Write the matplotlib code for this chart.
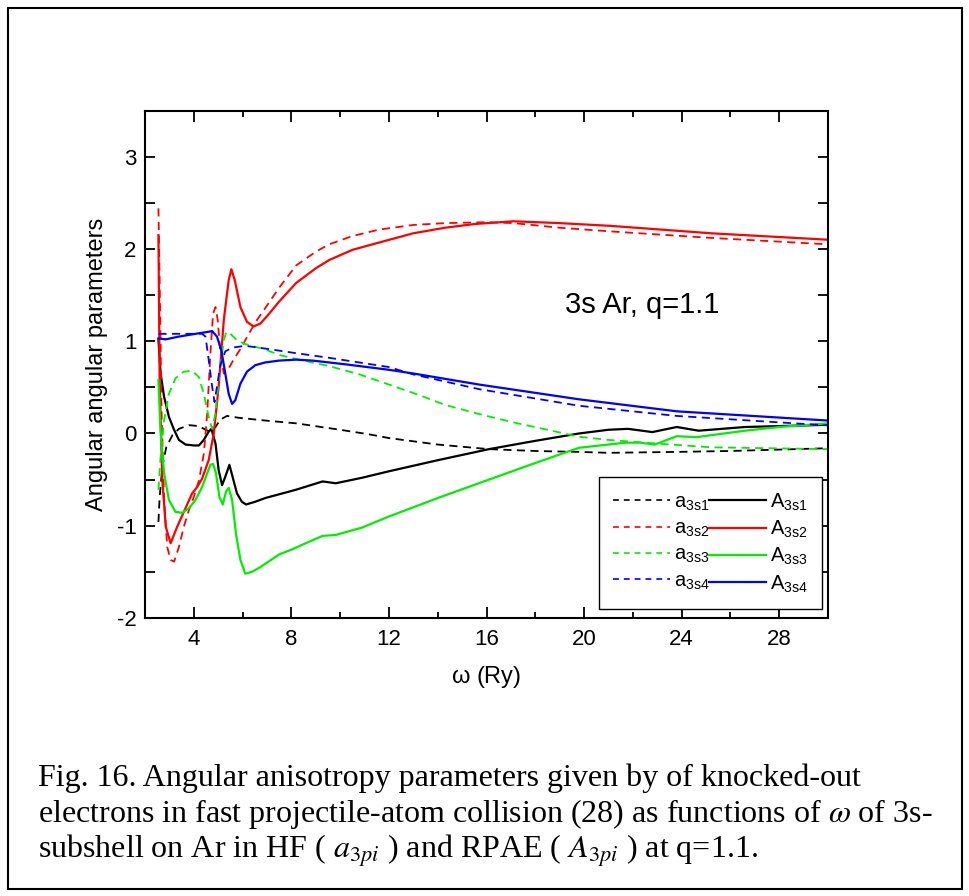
import matplotlib
matplotlib.use('Agg')
import matplotlib.pyplot as plt
from matplotlib.lines import Line2D
from matplotlib.patches import Rectangle

plt.rcParams['font.family'] = ['Liberation Sans', 'DejaVu Sans']
plt.rcParams['mathtext.fontset'] = 'custom'
plt.rcParams['mathtext.rm'] = 'Liberation Sans'
plt.rcParams['mathtext.it'] = 'Liberation Sans:italic'
plt.rcParams['axes.unicode_minus'] = False

# HF (dashed) and RPAE (solid) angular parameters
x_a1 = [2.55, 2.60, 2.71, 2.87, 3.12, 3.39, 3.80, 4.21, 4.48, 4.68, 4.89, 5.09, 5.36, 5.84, 6.93,
        8.19, 10.0, 11.2, 12.0, 14.0, 16.1, 18.0, 19.8, 21.0, 23.8, 26.0, 28.0, 30.0]
a1 = [-0.96, -0.69, -0.36, -0.15, -0.02, 0.05, 0.09, 0.08, 0.04, 0.02, 0.07, 0.15, 0.19, 0.17, 0.14,
      0.11, 0.04, -0.01, -0.05, -0.12, -0.17, -0.19, -0.20, -0.21, -0.20, -0.19, -0.175, -0.16]

x_A1 = [2.55, 2.64, 2.78, 2.98, 3.19, 3.39, 3.66, 4.00, 4.21, 4.41, 4.61, 4.72, 4.89, 5.02, 5.16,
        5.29, 5.46, 5.59, 5.77, 5.97, 6.14, 6.52, 6.93, 8.19, 9.28, 9.82, 10.9, 12.0, 14.0, 16.1,
        18.0, 19.8, 21.0, 21.8, 22.8, 23.8, 24.7, 26.6, 28.0, 30.0]
A1 = [1.02, 0.65, 0.40, 0.18, 0.04, -0.07, -0.12, -0.13, -0.13, -0.07, 0.02, 0.05, -0.11, -0.40, -0.56,
      -0.47, -0.34, -0.47, -0.65, -0.74, -0.77, -0.74, -0.70, -0.61, -0.52, -0.54, -0.48, -0.41, -0.29, -0.17,
      -0.08, 0.0, 0.04, 0.05, 0.015, 0.07, 0.03, 0.07, 0.08, 0.094]

x_a2 = [2.55, 2.60, 2.68, 2.78, 2.91, 3.05, 3.19, 3.39, 3.59, 3.80, 4.00, 4.21, 4.41, 4.55, 4.68,
        4.79, 4.89, 4.98, 5.09, 5.23, 5.40, 5.63, 5.97, 6.25, 6.59, 6.93, 7.5, 8.19, 9.0, 9.55,
        10.5, 11.6, 13.0, 14.3, 16.0, 17.1, 19.0, 21.1, 25.2, 30.0]
a2 = [2.44, 1.66, 0.22, -0.69, -1.23, -1.37, -1.39, -1.23, -1.01, -0.83, -0.69, -0.51, -0.22, 0.22, 0.87,
      1.30, 1.37, 1.23, 0.87, 0.65, 0.69, 0.80, 0.94, 1.08, 1.23, 1.36, 1.58, 1.82, 1.97, 2.05,
      2.14, 2.21, 2.26, 2.28, 2.29, 2.28, 2.23, 2.19, 2.12, 2.05]

x_A2 = [2.55, 2.60, 2.71, 2.85, 3.05, 3.32, 3.66, 3.93, 4.14, 4.34, 4.61, 4.82, 5.02, 5.23, 5.43,
        5.54, 5.68, 5.91, 6.18, 6.45, 6.72, 7.0, 7.5, 8.19, 9.0, 9.55, 10.5, 11.6, 13.0, 14.3,
        15.5, 17.1, 19.0, 21.1, 25.2, 30.0]
A2 = [2.15, 0.58, -0.51, -1.01, -1.19, -1.01, -0.81, -0.65, -0.58, -0.49, -0.29, 0.0, 0.51, 1.23, 1.66,
      1.78, 1.66, 1.37, 1.21, 1.16, 1.19, 1.27, 1.43, 1.63, 1.79, 1.88, 1.99, 2.07, 2.17, 2.23,
      2.27, 2.30, 2.28, 2.25, 2.17, 2.10]

x_a3 = [2.55, 2.64, 2.78, 2.98, 3.25, 3.59, 3.93, 4.21, 4.41, 4.61, 4.75, 4.89, 5.05, 5.23, 5.33,
        5.50, 5.77, 6.11, 6.52, 6.93, 7.51, 8.5, 9.55, 10.8, 12.0, 13.2, 14.3, 15.7, 17.1, 18.5,
        19.8, 21.0, 22.5, 25.2, 30.0]
a3 = [-0.61, -0.25, 0.14, 0.43, 0.60, 0.67, 0.68, 0.61, 0.43, 0.18, 0.05, 0.22, 0.65, 1.01, 1.10,
      1.08, 1.01, 0.97, 0.94, 0.91, 0.85, 0.79, 0.73, 0.64, 0.53, 0.42, 0.31, 0.21, 0.12, 0.04,
      -0.036, -0.07, -0.10, -0.15, -0.17]

x_A3 = [2.55, 2.64, 2.78, 2.98, 3.25, 3.53, 3.80, 4.07, 4.34, 4.55, 4.68, 4.79, 4.91, 5.05, 5.19,
        5.32, 5.43, 5.57, 5.73, 5.91, 6.11, 6.38, 6.72, 7.0, 7.51, 8.0, 8.5, 9.28, 9.82, 10.9,
        12.0, 14.0, 16.1, 18.0, 19.8, 21.0, 21.7, 22.3, 22.9, 23.8, 24.6, 26.6, 28.0, 30.0]
A3 = [0.58, 0.0, -0.43, -0.72, -0.85, -0.86, -0.81, -0.72, -0.58, -0.43, -0.34, -0.33, -0.43, -0.69, -0.77,
      -0.63, -0.59, -0.72, -1.09, -1.37, -1.52, -1.50, -1.45, -1.40, -1.31, -1.26, -1.20, -1.11, -1.10, -1.02,
      -0.90, -0.70, -0.50, -0.32, -0.155, -0.12, -0.10, -0.10, -0.12, -0.03, -0.04, 0.03, 0.07, 0.11]

x_a4 = [2.55, 3.39, 4.34, 4.48, 4.61, 4.75, 4.85, 4.95, 5.09, 5.29, 5.57, 6.11, 6.93, 8.2, 9.55,
        12.0, 13.0, 15.7, 19.8, 23.8, 30.0]
a4 = [1.08, 1.08, 1.08, 1.05, 0.80, 0.51, 0.34, 0.51, 0.74, 0.89, 0.93, 0.95, 0.92, 0.87, 0.82,
      0.72, 0.64, 0.48, 0.30, 0.19, 0.087]

x_A4 = [2.55, 2.85, 3.39, 4.07, 4.55, 4.75, 4.95, 5.13, 5.29, 5.43, 5.57, 5.70, 5.91, 6.18, 6.52,
        6.93, 7.5, 8.2, 8.87, 10.2, 12.0, 13.0, 15.7, 19.8, 23.8, 30.0]
A4 = [1.03, 1.02, 1.05, 1.08, 1.10, 1.11, 1.05, 0.90, 0.65, 0.43, 0.32, 0.36, 0.54, 0.67, 0.74,
      0.77, 0.79, 0.80, 0.79, 0.75, 0.69, 0.65, 0.53, 0.37, 0.24, 0.14]

colors = ['black', '#ff0000', '#00ee00', '#0000ff']
x_hf = [x_a1, x_a2, x_a3, x_a4]
y_hf = [a1, a2, a3, a4]
x_rpa = [x_A1, x_A2, x_A3, x_A4]
y_rpa = [A1, A2, A3, A4]
lab_hf = [r'a$_{\mathrm{3s%d}}$' % (i + 1) for i in range(4)]
lab_rpa = [r'A$_{\mathrm{3s%d}}$' % (i + 1) for i in range(4)]

fig = plt.figure(figsize=(9.7, 8.96), dpi=100)
ax = fig.add_axes([0.1495, 0.3103, 0.7041, 0.5663])

for i in range(4):
    ax.plot(x_hf[i], y_hf[i], color=colors[i], lw=1.3, dashes=(4.5, 3))
    ax.plot(x_rpa[i], y_rpa[i], color=colors[i], lw=1.6)

ax.set_xlim(2, 30)
ax.set_ylim(-2, 3.5)
ax.set_xticks([4, 8, 12, 16, 20, 24, 28])
ax.set_xticks(range(2, 31, 2), minor=True)
ax.set_yticks([-2, -1, 0, 1, 2, 3])
ax.set_yticks([-1.5, -0.5, 0.5, 1.5, 2.5, 3.5], minor=True)
ax.tick_params(which='both', direction='in', top=True, right=True, width=1.3, labelsize=16)
ax.tick_params(axis='x', which='major', length=8, pad=8)
ax.tick_params(axis='x', which='minor', length=4)
ax.tick_params(axis='y', which='both', length=7, pad=6)
for s in ax.spines.values():
    s.set_linewidth(1.5)

ax.set_xlabel(r'$\mathrm{\omega}$ (Ry)', fontsize=17, labelpad=10)
ax.set_ylabel('Angular angular parameters', fontsize=17, labelpad=6)
ax.text(22.4, 1.39, '3s Ar, q=1.1', fontsize=21, ha='center', va='center')

handles = [Line2D([], [], color=c, lw=1.2, dashes=(3.5, 3)) for c in colors] + \
          [Line2D([], [], color=c, lw=1.6) for c in colors]
leg = ax.legend(handles, lab_hf + lab_rpa, ncol=2, loc='lower right',
                bbox_to_anchor=(0.991, 0.018), borderaxespad=0, fontsize=14.5,
                handlelength=2.8, handletextpad=0.2, columnspacing=0.0,
                labelspacing=0.3, borderpad=0.7, fancybox=False, framealpha=1,
                edgecolor='black')
leg.get_frame().set_linewidth(1.0)

fig.patches.append(Rectangle((0.008, 0.008), 0.984, 0.983, transform=fig.transFigure,
                             fill=False, edgecolor='black', lw=1.5))

cap = ['Fig. 16. Angular anisotropy parameters given by of knocked-out',
       r'electrons in fast projectile-atom collision (28) as functions of $\omega$ of 3s-',
       r'subshell on Ar in HF ( $a_{3pi}$ ) and RPAE ( $A_{3pi}$ ) at q=1.1.']
for k, line in enumerate(cap):
    fig.text(0.039, 1 - (786 + 36 * k) / 896, line, fontsize=23,
             family='Liberation Serif', math_fontfamily='stix', va='baseline')

fig.savefig('out.png', dpi=100)
